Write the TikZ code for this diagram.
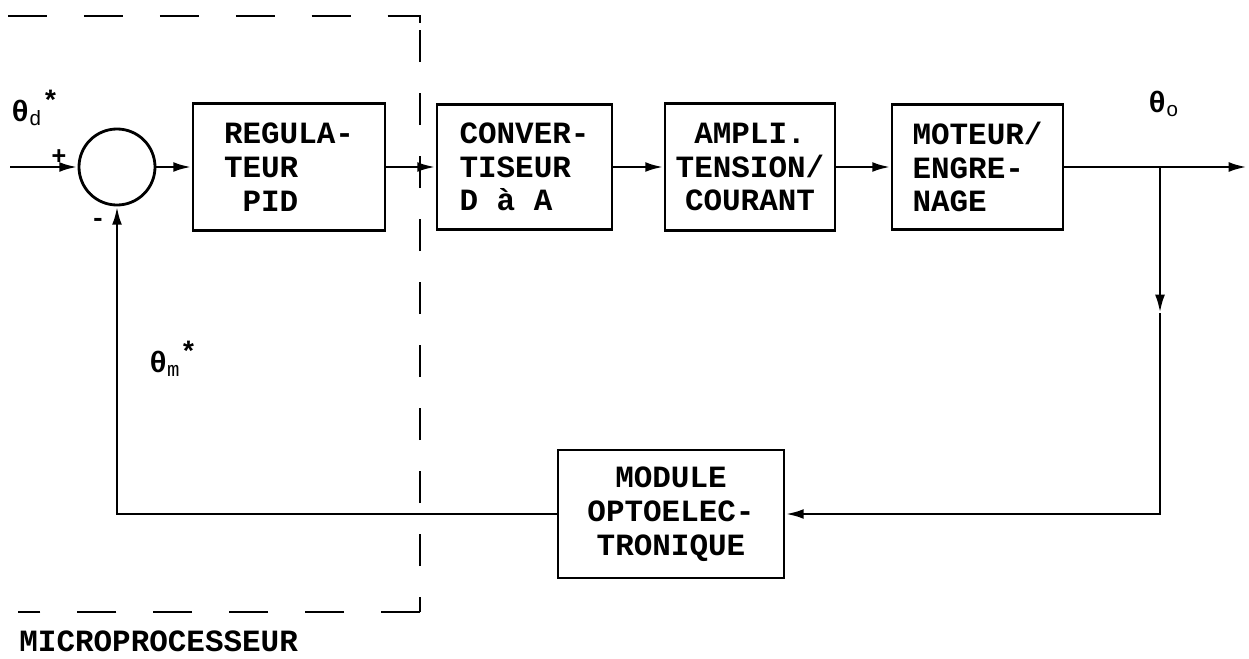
\documentclass[tikz,border=0pt]{standalone}
\usepackage{fontspec}
\setmainfont{Liberation Mono}
\usetikzlibrary{arrows.meta}

\begin{document}
\begin{tikzpicture}[
    x=0.025cm, y=-0.025cm,
    line width=2pt,
    blk/.style={draw, line width=2pt, align=left, inner sep=0pt, font=\fontsize{22}{24}\selectfont\bfseries},
    sumnode/.style={draw, circle, line width=2pt, minimum size=1.9cm, inner sep=0pt},
    arr/.style={-{Latex[length=13pt,width=7pt]}},
    lbl/.style={font=\fontsize{21}{24}\selectfont, inner sep=0pt},
    sgn/.style={font=\fontsize{18}{18}\selectfont\bfseries, inner sep=0pt},
    hdash/.style={line width=2pt, dash pattern=on 27.7pt off 26.3pt},
    vdash/.style={line width=2pt, dash pattern=on 22.8pt off 22pt, dash phase=12.1pt}
]
\useasboundingbox (0,0) rectangle (1249,658);

% microprocessor boundary
\draw[hdash] (8,16) -- (420,16) -- (420,30);
\draw[vdash] (420,612) -- (420,16);
\draw[hdash] (420,612) -- (18,612);
\node[lbl, anchor=base west, font=\fontsize{22}{24}\selectfont\bfseries] (mp) at (18,651) {MICROPROCESSEUR};

% summing point
\node[sumnode] (sum) at (117,167) {};

% forward path blocks
\node[blk, minimum width=4.8cm, minimum height=3.175cm] (pid) at (289,167) {REGULA-\\TEUR\\\hphantom{P}PID};
\node[blk, minimum width=4.375cm, minimum height=3.125cm] (dac) at (524.5,167) {CONVER-\\TISEUR\\D à A};
\node[blk, minimum width=4.25cm, minimum height=3.175cm, align=center] (amp) at (750,167) {AMPLI.\\TENSION/\\COURANT};
\node[blk, minimum width=4.275cm, minimum height=3.125cm] (mot) at (977.5,167) {MOTEUR/\\ENGRE-\\NAGE};

% feedback block
\node[blk, minimum width=5.65cm, minimum height=3.2cm, align=center] (opto) at (671,514) {MODULE\\OPTOELEC-\\TRONIQUE};

% free ends
\coordinate (in) at (10,167);
\coordinate (out) at (1247,167);
\coordinate (br) at (1160,167);
\coordinate (brmid) at (1160,313);

% labels
\node[lbl, anchor=base west] (thd) at (10,121) {\textbf{θ}\textsubscript{d}\textsuperscript{\fontsize{20}{20}\selectfont\bfseries *}};
\node[lbl, anchor=base west] (tho) at (1147,112) {\textbf{θ}\textsubscript{o}};
\node[lbl, anchor=base west] (thm) at (148,372) {\textbf{θ}\textsubscript{m}\textsuperscript{\fontsize{20}{20}\selectfont\bfseries *}};
\node[sgn] (plus) at (59,157) {+};
\node[sgn] (minus) at (98,222) {-};

% connections
\draw[arr] (in) -- (sum);
\draw[arr] (sum) -- (pid);
\draw[arr] (pid) -- (dac);
\draw[arr] (dac) -- (amp);
\draw[arr] (amp) -- (mot);
\draw[arr] (mot) -- (out);
\draw[arr] (br) -- (brmid);
\draw[arr] (brmid) |- (opto.east);
\draw[arr] (opto.west) -| (sum.south);

\end{tikzpicture}
\end{document}
